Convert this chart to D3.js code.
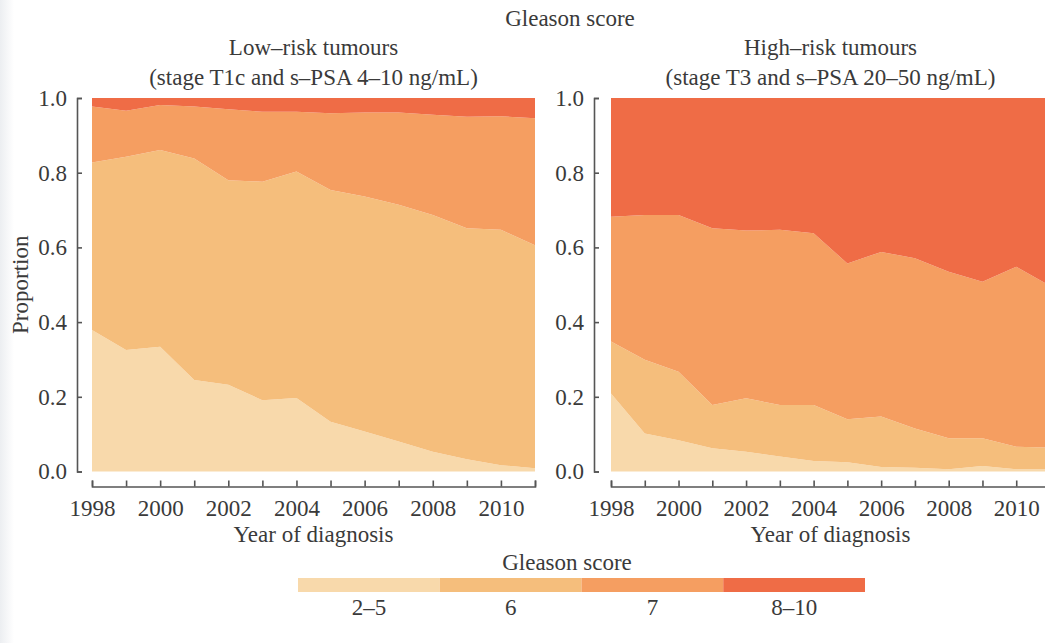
<!DOCTYPE html>
<html>
<head>
<meta charset="utf-8">
<script src="https://cdn.jsdelivr.net/npm/d3@7"></script>
<style>
  html, body { margin: 0; padding: 0; background: #ffffff; }
  svg { display: block; }
  text { font-family: "Liberation Serif", "Times New Roman", serif; fill: #3a3a3a; }
</style>
</head>
<body>
<svg id="chart" width="1045" height="643"></svg>
<script>
// ---- Data ----
const years = [1998,1999,2000,2001,2002,2003,2004,2005,2006,2007,2008,2009,2010,2011];
const yearTickLabels = ["1998","2000","2002","2004","2006","2008","2010"];
const yTickValues = [0, 0.2, 0.4, 0.6, 0.8, 1.0];
const categories = ["2–5", "6", "7", "8–10"];
const categoryColors = ["#f8d9ab", "#f5be7c", "#f59e61", "#ef6c46"];

// Low-risk tumours: proportions per Gleason category
const lowRisk_2_5  = [0.379,0.325,0.334,0.245,0.232,0.191,0.197,0.133,0.107,0.080,0.053,0.033,0.017,0.009];
const lowRisk_6    = [0.448,0.518,0.527,0.593,0.548,0.585,0.606,0.621,0.629,0.634,0.634,0.618,0.630,0.597];
const lowRisk_7    = [0.150,0.123,0.120,0.139,0.190,0.187,0.160,0.205,0.225,0.247,0.268,0.299,0.304,0.340];
const lowRisk_8_10 = [0.023,0.034,0.019,0.023,0.030,0.037,0.037,0.041,0.039,0.039,0.045,0.050,0.049,0.054];

// High-risk tumours
const highRisk_2_5  = [0.209,0.102,0.084,0.062,0.053,0.040,0.028,0.025,0.012,0.010,0.006,0.015,0.006,0.006];
const highRisk_6    = [0.139,0.197,0.183,0.116,0.143,0.138,0.150,0.115,0.135,0.105,0.083,0.074,0.060,0.058];
const highRisk_7    = [0.334,0.388,0.420,0.473,0.449,0.469,0.460,0.417,0.441,0.456,0.446,0.419,0.482,0.433];
const highRisk_8_10 = [0.318,0.313,0.313,0.349,0.355,0.353,0.362,0.443,0.412,0.429,0.465,0.492,0.452,0.503];

const panelTitles = [
  ["Low–risk tumours", "(stage T1c and s–PSA 4–10 ng/mL)"],
  ["High–risk tumours", "(stage T3 and s–PSA 20–50 ng/mL)"]
];
const topTitle = "Gleason score";
const xAxisTitle = "Year of diagnosis";
const yAxisTitle = "Proportion";
const legendTitle = "Gleason score";

// ---- Build ----
const svg = d3.select("#chart");
const FS = 23;

// subtle grey edge at far left like the reference
const defs = svg.append("defs");
const grad = defs.append("linearGradient").attr("id","edge").attr("x1","0").attr("x2","1");
grad.append("stop").attr("offset","0").attr("stop-color","#eceef1");
grad.append("stop").attr("offset","1").attr("stop-color","#ffffff");
svg.append("rect").attr("x",0).attr("y",0).attr("width",14).attr("height",643).attr("fill","url(#edge)");

function makeTable(s25, s6, s7, s810) {
  return years.map((yr, i) => ({year: yr, "2–5": s25[i], "6": s6[i], "7": s7[i], "8–10": s810[i]}));
}

const panels = [
  {table: makeTable(lowRisk_2_5, lowRisk_6, lowRisk_7, lowRisk_8_10), x0: 92, x1: 535, axisX: 77, titles: panelTitles[0], showYTitle: true},
  {table: makeTable(highRisk_2_5, highRisk_6, highRisk_7, highRisk_8_10), x0: 611, x1: 1050, axisX: 594, titles: panelTitles[1], showYTitle: false}
];

const yTop = 98, yBot = 471.5, xAxisY = 486.5;
const y = d3.scaleLinear().domain([0, 1]).range([yBot, yTop]);
const color = d3.scaleOrdinal().domain(categories).range(categoryColors);
const stack = d3.stack().keys(categories);

panels.forEach(p => {
  const x = d3.scaleLinear().domain([years[0], years[years.length-1]]).range([p.x0, p.x1]);
  const series = stack(p.table);
  const area = d3.area()
    .x(d => x(d.data.year))
    .y0(d => y(d[0]))
    .y1(d => y(d[1]));
  const g = svg.append("g");
  g.selectAll("path.layer").data(series).join("path")
    .attr("class","layer")
    .attr("fill", d => color(d.key))
    .attr("d", area);

  // y axis
  const ya = svg.append("g").attr("transform", `translate(${p.axisX},0)`)
    .call(d3.axisLeft(y).tickValues(yTickValues).tickFormat(d3.format(".1f"))
      .tickSize(-5).tickSizeOuter(-5).tickPadding(10));
  ya.selectAll("path, line").attr("stroke", "#555").attr("stroke-width", 1.6);
  ya.selectAll("text").attr("font-size", FS).attr("font-family", "Liberation Serif, serif").attr("fill", "#3a3a3a");

  // x axis
  const xa = svg.append("g").attr("transform", `translate(0,${xAxisY})`)
    .call(d3.axisBottom(x).tickValues(years)
      .tickFormat(d => yearTickLabels.includes(String(d)) ? String(d) : "")
      .tickSize(-6).tickSizeOuter(-6).tickPadding(0));
  xa.selectAll("path, line").attr("stroke", "#555").attr("stroke-width", 1.6);
  xa.selectAll("text").attr("font-size", FS).attr("font-family", "Liberation Serif, serif")
    .attr("fill", "#3a3a3a").attr("y", 29).attr("dy", 0);

  const cx = (p.x0 + p.x1) / 2;
  svg.append("text").attr("x", cx).attr("y", 542).attr("text-anchor","middle")
    .attr("font-size", FS).text(xAxisTitle);
  svg.append("text").attr("x", cx).attr("y", 55).attr("text-anchor","middle")
    .attr("font-size", FS).text(p.titles[0]);
  svg.append("text").attr("x", cx).attr("y", 85).attr("text-anchor","middle")
    .attr("font-size", FS).text(p.titles[1]);

  if (p.showYTitle) {
    svg.append("text").attr("transform", `translate(28,${(yTop+yBot)/2}) rotate(-90)`)
      .attr("text-anchor","middle").attr("font-size", FS).text(yAxisTitle);
  }
});

svg.append("text").attr("x", 570).attr("y", 26).attr("text-anchor","middle")
  .attr("font-size", FS).text(topTitle);

// legend
const lx = d3.scaleBand().domain(categories).range([298, 865]).paddingInner(0);
svg.append("text").attr("x", 567).attr("y", 570).attr("text-anchor","middle")
  .attr("font-size", FS).text(legendTitle);
svg.selectAll("rect.leg").data(categories).join("rect")
  .attr("class","leg")
  .attr("x", d => lx(d)).attr("y", 578).attr("width", lx.bandwidth()).attr("height", 14)
  .attr("fill", d => color(d));
svg.selectAll("text.leglab").data(categories).join("text")
  .attr("class","leglab")
  .attr("x", d => lx(d) + lx.bandwidth()/2).attr("y", 615).attr("text-anchor","middle")
  .attr("font-size", FS).text(d => d);
</script>
</body>
</html>
